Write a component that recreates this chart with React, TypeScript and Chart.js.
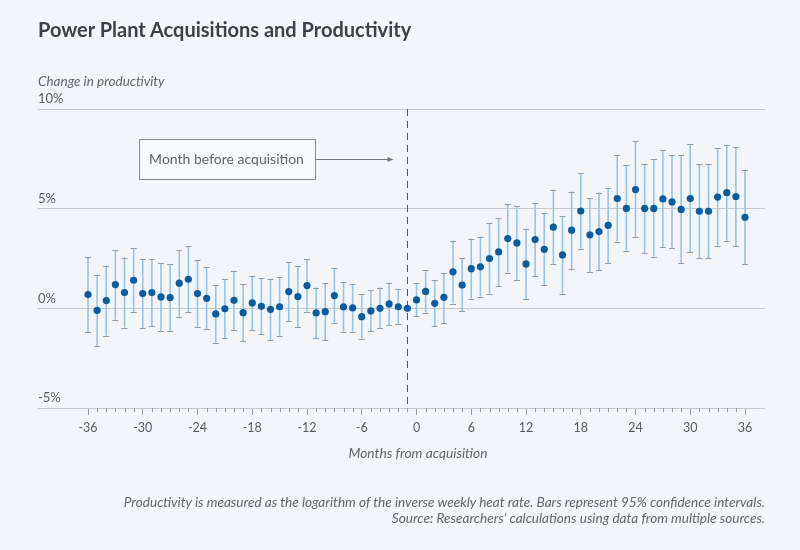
import React, { useEffect, useRef } from "react";
import { Chart, registerables } from "chart.js";

Chart.register(...registerables);

const months = [
  -36, -35, -34, -33, -32, -31, -30, -29, -28, -27, -26, -25, -24, -23, -22, -21, -20, -19,
  -18, -17, -16, -15, -14, -13, -12, -11, -10, -9, -8, -7, -6, -5, -4, -3, -2, -1,
  0, 1, 2, 3, 4, 5, 6, 7, 8, 9, 10, 11, 12, 13, 14, 15, 16, 17, 18,
  19, 20, 21, 22, 23, 24, 25, 26, 27, 28, 29, 30, 31, 32, 33, 34, 35, 36,
];

const estimates = [
  0.69, -0.1, 0.39, 1.19, 0.79, 1.41, 0.74, 0.79, 0.57, 0.54, 1.26, 1.46, 0.74, 0.5, -0.28, -0.02, 0.4, -0.22,
  0.27, 0.1, -0.05, 0.08, 0.84, 0.59, 1.14, -0.23, -0.17, 0.64, 0.07, 0.02, -0.42, -0.13, 0.0, 0.22, 0.08, 0.0,
  0.42, 0.85, 0.25, 0.55, 1.83, 1.17, 1.99, 2.08, 2.5, 2.83, 3.5, 3.28, 2.23, 3.45, 2.96, 4.07, 2.68, 3.92, 4.88,
  3.69, 3.85, 4.16, 5.51, 5.01, 5.96, 5.01, 5.01, 5.49, 5.34, 4.96, 5.51, 4.87, 4.87, 5.58, 5.8, 5.61, 4.57,
];

const lowerCI: (number | null)[] = [
  -1.2, -1.89, -1.37, -0.57, -0.97, -0.18, -0.99, -0.9, -1.12, -1.14, -0.42, -0.2, -0.94, -1.06, -1.73, -1.49, -1.07, -1.64,
  -1.11, -1.29, -1.57, -1.37, -0.65, -0.95, -0.17, -1.51, -1.61, -0.72, -1.17, -1.17, -1.52, -1.14, -1.0, -0.85, -0.77, null,
  -0.4, -0.22, -0.89, -0.72, 0.24, -0.15, 0.49, 0.59, 0.74, 1.12, 1.79, 1.44, 0.45, 1.62, 1.17, 2.2, 0.74, 1.98, 2.99,
  1.84, 1.91, 2.26, 3.35, 2.9, 3.58, 2.76, 2.6, 3.07, 3.03, 2.25, 2.81, 2.51, 2.51, 3.15, 3.4, 3.13, 2.23,
];

const upperCI: (number | null)[] = [
  2.56, 1.69, 2.13, 2.91, 2.55, 3.02, 2.45, 2.45, 2.26, 2.21, 2.91, 3.13, 2.41, 2.06, 1.17, 1.46, 1.89, 1.21,
  1.64, 1.51, 1.49, 1.56, 2.33, 2.14, 2.46, 1.04, 1.26, 2.01, 1.32, 1.22, 0.72, 0.9, 1.04, 1.29, 0.97, null,
  1.27, 1.93, 1.42, 1.79, 3.4, 2.53, 3.5, 3.6, 4.26, 4.52, 5.23, 5.13, 4.0, 5.26, 4.76, 5.96, 4.62, 5.86, 6.78,
  5.53, 5.81, 6.06, 7.69, 7.17, 8.38, 7.25, 7.47, 7.94, 7.67, 7.67, 8.22, 7.24, 7.25, 8.02, 8.21, 8.11, 6.95,
];

const xTickValues = [-36, -30, -24, -18, -12, -6, 0, 6, 12, 18, 24, 30, 36];
const yTickValues = [-5, 0, 5, 10];
const referenceMonth = -1;

const titleText = "Power Plant Acquisitions and Productivity";
const yAxisText = "Change in productivity";
const xAxisText = "Months from acquisition";
const annotationText = "Month before acquisition";
const noteLines = [
  "Productivity is measured as the logarithm of the inverse weekly heat rate. Bars represent 95% confidence intervals.",
  "Source: Researchers\u2019 calculations using data from multiple sources.",
];

const FONT = "Lato, 'Open Sans', sans-serif";
const BG = "#f2f6fa";

export default function App() {
  const canvasRef = useRef<HTMLCanvasElement | null>(null);

  useEffect(() => {
    const canvas = canvasRef.current;
    if (!canvas) return;

    const bgPlugin = {
      id: "bg",
      beforeDraw(chart: any) {
        const ctx = chart.ctx;
        ctx.save();
        ctx.fillStyle = BG;
        ctx.fillRect(0, 0, chart.width, chart.height);
        ctx.restore();
      },
    };

    const overlayPlugin = {
      id: "overlay",
      beforeDatasetsDraw(chart: any) {
        const ctx = chart.ctx;
        const xs = chart.scales.x;
        const ys = chart.scales.y;
        const area = chart.chartArea;
        ctx.save();
        // dashed reference line
        const rx = Math.round(xs.getPixelForValue(referenceMonth)) + 0.5;
        ctx.strokeStyle = "#555";
        ctx.lineWidth = 1;
        ctx.setLineDash([7, 5]);
        ctx.beginPath();
        ctx.moveTo(rx, area.top);
        ctx.lineTo(rx, area.bottom);
        ctx.stroke();
        ctx.setLineDash([]);

        // minor ticks
        ctx.strokeStyle = "#9a9a9a";
        ctx.lineWidth = 1;
        for (const m of months) {
          if (xTickValues.includes(m)) continue;
          const px = Math.round(xs.getPixelForValue(m)) + 0.5;
          ctx.beginPath();
          ctx.moveTo(px, area.bottom);
          ctx.lineTo(px, area.bottom + 4);
          ctx.stroke();
        }

        // error bars
        for (let i = 0; i < months.length; i++) {
          const lo = lowerCI[i];
          const hi = upperCI[i];
          if (lo == null || hi == null) continue;
          const px = xs.getPixelForValue(months[i]);
          const yl = ys.getPixelForValue(lo);
          const yh = ys.getPixelForValue(hi);
          ctx.strokeStyle = "#9cc2e0";
          ctx.lineWidth = 1.6;
          ctx.beginPath();
          ctx.moveTo(px, yl);
          ctx.lineTo(px, yh);
          ctx.stroke();
          ctx.strokeStyle = "#8e9aa5";
          ctx.lineWidth = 1;
          ctx.beginPath();
          ctx.moveTo(px - 3, Math.round(yl) + 0.5);
          ctx.lineTo(px + 3, Math.round(yl) + 0.5);
          ctx.moveTo(px - 3, Math.round(yh) + 0.5);
          ctx.lineTo(px + 3, Math.round(yh) + 0.5);
          ctx.stroke();
        }

        // annotation box + arrow
        const boxRight = rx - 93;
        const boxW = 176;
        const boxTop = area.top + 30;
        const boxH = 40;
        ctx.fillStyle = "#f7f9fc";
        ctx.fillRect(boxRight - boxW, boxTop, boxW, boxH);
        ctx.strokeStyle = "#8a8a8a";
        ctx.lineWidth = 1;
        ctx.strokeRect(Math.round(boxRight - boxW) + 0.5, Math.round(boxTop) + 0.5, boxW, boxH);
        ctx.fillStyle = "#5f6468";
        ctx.font = `14px ${FONT}`;
        ctx.textAlign = "center";
        ctx.textBaseline = "middle";
        ctx.fillText(annotationText, boxRight - boxW / 2, boxTop + boxH / 2);
        const ay = Math.round(boxTop + boxH / 2) + 0.5;
        const tip = rx - 14;
        ctx.strokeStyle = "#777";
        ctx.beginPath();
        ctx.moveTo(boxRight + 0.5, ay);
        ctx.lineTo(tip - 4, ay);
        ctx.stroke();
        ctx.fillStyle = "#777";
        ctx.beginPath();
        ctx.moveTo(tip, ay);
        ctx.lineTo(tip - 6, ay - 2.5);
        ctx.lineTo(tip - 6, ay + 2.5);
        ctx.closePath();
        ctx.fill();
        ctx.restore();
      },
    };

    const chart = new Chart(canvas, {
      type: "scatter",
      data: {
        datasets: [
          {
            data: months.map((m, i) => ({ x: m, y: estimates[i] })),
            pointRadius: 3.6,
            pointBackgroundColor: "#0b5c9e",
            pointBorderWidth: 0,
            showLine: false,
          },
        ],
      },
      options: {
        responsive: false,
        animation: false,
        events: [],
        layout: { padding: { top: 109, left: 38, right: 35, bottom: 102 } },
        plugins: {
          legend: { display: false },
          tooltip: { enabled: false },
          title: { display: false },
        },
        scales: {
          x: {
            type: "linear",
            min: -41.48,
            max: 38.19,
            afterBuildTicks: (axis: any) => {
              axis.ticks = xTickValues.map((v) => ({ value: v }));
            },
            afterFit: (axis: any) => {
              axis.height = 40;
            },
            border: { display: false },
            grid: {
              drawOnChartArea: false,
              drawTicks: true,
              tickLength: 7,
              color: "#9a9a9a",
              tickColor: "#9a9a9a",
            },
            ticks: {
              autoSkip: false,
              maxRotation: 0,
              padding: 5,
              color: "#5a5a5a",
              font: { family: FONT, size: 12.5 },
              callback: (v: any) => String(v),
            },
          },
          y: {
            type: "linear",
            min: -5,
            max: 10,
            afterBuildTicks: (axis: any) => {
              axis.ticks = yTickValues.map((v) => ({ value: v }));
            },
            afterFit: (axis: any) => {
              axis.width = 0;
            },
            border: { display: false },
            grid: {
              drawTicks: false,
              color: "#c6cacd",
              lineWidth: 1,
            },
            ticks: {
              mirror: true,
              padding: 0,
              labelOffset: -10,
              color: "#5a5a5a",
              font: { family: FONT, size: 13 },
              callback: (v: any) => `${v}%`,
            },
          },
        },
      },
      plugins: [bgPlugin, overlayPlugin],
    } as any);

    return () => {
      chart.destroy();
    };
  }, []);

  return (
    <div
      style={{
        position: "absolute",
        left: 0,
        top: 0,
        width: 800,
        height: 550,
        background: BG,
        overflow: "hidden",
        fontFamily: FONT,
      }}
    >
      <canvas
        ref={canvasRef}
        width={800}
        height={550}
        style={{ position: "absolute", left: 0, top: 0, width: 800, height: 550 }}
      />
      <div
        style={{
          position: "absolute",
          left: 38,
          top: 19,
          fontSize: 20,
          lineHeight: "20px",
          fontWeight: 700,
          color: "#3a4249",
          whiteSpace: "nowrap",
        }}
      >
        {titleText}
      </div>
      <div
        style={{
          position: "absolute",
          left: 38,
          top: 75,
          fontSize: 13.5,
          lineHeight: "13.5px",
          fontStyle: "italic",
          color: "#5f666c",
          whiteSpace: "nowrap",
        }}
      >
        {yAxisText}
      </div>
      <div
        style={{
          position: "absolute",
          left: 318,
          width: 200,
          top: 446,
          textAlign: "center",
          fontSize: 13.8,
          lineHeight: "14px",
          fontStyle: "italic",
          color: "#5f666c",
          whiteSpace: "nowrap",
        }}
      >
        {xAxisText}
      </div>
      <div
        style={{
          position: "absolute",
          right: 35,
          top: 494,
          textAlign: "right",
          fontSize: 13.6,
          lineHeight: "16px",
          fontStyle: "italic",
          color: "#5f666c",
          whiteSpace: "nowrap",
        }}
      >
        {noteLines.map((l, i) => (
          <div key={i}>{l}</div>
        ))}
      </div>
    </div>
  );
}
